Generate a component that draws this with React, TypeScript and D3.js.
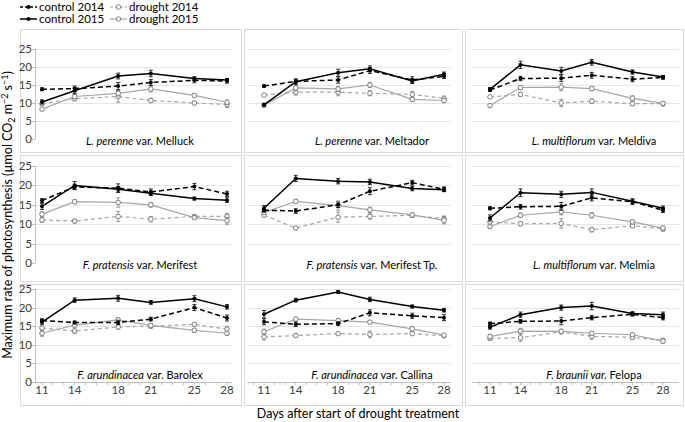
import React from "react";
import * as d3 from "d3";

const days = [11, 14, 18, 21, 25, 28];
const xTickLabels = ["11", "14", "18", "21", "25", "28"];
const yTicks = [0, 5, 10, 15, 20, 25];

const speciesItalic = [
  "L. perenne", "L. perenne", "L. multiflorum",
  "F. pratensis", "F. pratensis", "L. multiflorum",
  "F. arundinacea", "F. arundinacea", "F. braunii var.",
];
const varietyText = [
  " var. Melluck", " var. Meltador", " var. Meldiva",
  " var. Merifest", " var. Merifest Tp.", " var. Melmia",
  " var. Barolex", " var. Callina", " Felopa",
];

const control2014 = [
  [13.8, 14.0, 14.7, 15.7, 16.3, 16.1],
  [14.7, 16.0, 16.4, 19.0, 16.4, 17.4],
  [13.6, 16.8, 16.9, 17.7, 16.6, 17.1],
  [16.1, 19.6, 19.3, 18.3, 19.7, 17.8],
  [13.6, 13.4, 15.0, 18.5, 20.7, 19.0],
  [14.1, 14.5, 14.6, 16.8, 15.8, 13.6],
  [16.5, 16.0, 16.0, 16.9, 20.0, 17.2],
  [16.2, 15.5, 15.7, 18.6, 17.8, 17.3],
  [15.7, 16.3, 16.4, 17.3, 18.2, 17.3],
];
const control2014Err = [
  [0.4, 0.7, 1.0, 0.8, 0.7, 0.6],
  [0.3, 0.5, 0.9, 0.8, 0.9, 0.6],
  [0.4, 0.6, 0.9, 0.8, 0.7, 0.5],
  [0.5, 0.7, 1.1, 0.8, 0.8, 0.7],
  [0.5, 0.6, 0.7, 0.9, 0.6, 0.6],
  [0.4, 0.6, 1.0, 0.8, 0.7, 0.6],
  [0.5, 0.4, 0.6, 0.5, 0.8, 0.8],
  [0.8, 0.6, 0.5, 0.8, 0.7, 0.8],
  [0.4, 0.5, 1.0, 0.6, 0.5, 0.6],
];
const control2015 = [
  [10.3, 13.4, 17.5, 18.2, 16.8, 16.4],
  [9.5, 15.9, 18.4, 19.5, 16.1, 18.0],
  [13.8, 20.6, 18.9, 21.3, 18.6, 17.2],
  [14.6, 20.0, 19.0, 18.0, 16.6, 16.2],
  [14.1, 21.8, 21.1, 20.9, 19.2, 18.9],
  [11.6, 18.1, 17.7, 18.2, 15.9, 14.1],
  [16.1, 22.0, 22.5, 21.4, 22.4, 20.2],
  [18.2, 22.0, 24.2, 22.2, 20.3, 19.3],
  [14.7, 18.1, 20.0, 20.4, 18.4, 18.1],
];
const control2015Err = [
  [0.6, 0.8, 0.8, 0.9, 0.5, 0.4],
  [0.4, 0.8, 1.0, 0.8, 0.6, 0.6],
  [0.5, 1.0, 1.0, 0.8, 0.6, 0.4],
  [0.8, 1.0, 0.7, 0.6, 0.4, 0.6],
  [0.7, 0.8, 0.7, 0.7, 0.6, 0.5],
  [0.8, 1.0, 0.8, 0.9, 0.6, 0.6],
  [0.6, 0.6, 0.8, 0.5, 0.8, 0.6],
  [1.0, 0.5, 0.4, 0.6, 0.4, 0.5],
  [0.5, 0.7, 0.7, 1.0, 0.5, 0.7],
];
const drought2014 = [
  [9.8, 11.2, 11.8, 10.7, 10.0, 9.6],
  [12.2, 13.0, 13.0, 12.7, 12.4, 11.3],
  [11.7, 12.4, 10.0, 10.5, 9.8, 9.8],
  [11.1, 10.8, 12.0, 11.3, 12.0, 12.0],
  [12.3, 9.0, 11.8, 12.0, 12.3, 11.4],
  [10.6, 10.1, 10.2, 8.6, 9.6, 8.8],
  [14.5, 13.7, 14.8, 15.0, 15.5, 14.2],
  [12.1, 12.5, 13.0, 12.8, 13.0, 12.4],
  [11.7, 11.9, 13.5, 12.3, 12.0, 11.2],
];
const drought2014Err = [
  [0.5, 0.6, 1.6, 0.6, 0.5, 0.9],
  [0.3, 0.8, 1.0, 0.7, 0.8, 0.6],
  [0.3, 0.6, 1.0, 0.6, 0.5, 0.6],
  [0.6, 0.5, 1.3, 0.7, 0.4, 0.8],
  [0.4, 0.4, 1.3, 0.7, 0.5, 0.7],
  [0.6, 0.5, 1.2, 0.6, 0.5, 0.6],
  [0.6, 0.6, 0.6, 0.5, 0.4, 0.7],
  [0.8, 0.5, 0.3, 0.9, 0.5, 0.4],
  [0.5, 1.0, 0.5, 0.8, 0.5, 0.5],
];
const drought2015 = [
  [8.3, 11.8, 12.7, 13.9, 12.1, 10.2],
  [9.4, 14.2, 13.9, 15.0, 11.0, 10.7],
  [9.3, 14.3, 14.4, 14.0, 11.3, 9.9],
  [12.6, 15.8, 15.6, 15.0, 11.7, 10.9],
  [13.0, 15.9, 14.8, 13.7, 12.4, 11.0],
  [9.4, 12.3, 13.2, 12.3, 10.6, 9.0],
  [13.1, 15.3, 16.7, 15.2, 13.9, 13.1],
  [13.5, 16.9, 16.5, 16.1, 14.3, 12.6],
  [12.2, 13.7, 13.6, 13.1, 12.7, 11.0],
];
const drought2015Err = [
  [0.4, 0.6, 0.8, 0.8, 0.5, 0.6],
  [0.5, 0.8, 0.7, 0.7, 0.6, 0.6],
  [0.3, 0.5, 1.0, 0.6, 0.7, 0.5],
  [0.6, 0.5, 1.2, 0.6, 0.5, 0.9],
  [0.5, 0.5, 1.2, 0.7, 0.5, 0.9],
  [0.5, 0.6, 0.8, 0.7, 0.5, 0.5],
  [0.8, 0.6, 0.6, 0.4, 0.5, 0.6],
  [0.7, 0.5, 0.6, 0.4, 0.6, 0.4],
  [0.6, 0.7, 0.6, 0.5, 0.4, 0.6],
];

const legendLabels = ["control 2014", "drought 2014", "control 2015", "drought 2015"];

// ---------- layout ----------
const W = 685;
const H = 422;
const FONT = "Lato, 'Open Sans', sans-serif";
const cols = [
  { left: 20, right: 241, x0: 42, x1: 227, g0: 35, g1: 232, labelX: 140 },
  { left: 244, right: 462, x0: 264, x1: 444, g0: 247, g1: 451, labelX: 372 },
  { left: 465, right: 683, x0: 490, x1: 663, g0: 472, g1: 679, labelX: 594 },
];
const rows = [
  { top: 29, bottom: 152, y0: 139, y25: 49, labelDy: 6 },
  { top: 155, bottom: 281, y0: 263, y25: 166, labelDy: 6 },
  { top: 284, bottom: 405, y0: 382, y25: 289, labelDy: -3 },
];

const BLACK = "#000000";
const GRAY_LINE = "#a6a6a6";
const GRAY_MARK = "#7f7f7f";

type SeriesStyle = {
  values: number[][];
  errs: number[][];
  color: string;
  markColor: string;
  dash?: string;
  width: number;
  open: boolean;
};

const seriesStyles: SeriesStyle[] = [
  { values: drought2014, errs: drought2014Err, color: GRAY_LINE, markColor: GRAY_MARK, dash: "4,3", width: 1.2, open: true },
  { values: drought2015, errs: drought2015Err, color: GRAY_LINE, markColor: GRAY_MARK, width: 1.2, open: true },
  { values: control2014, errs: control2014Err, color: BLACK, markColor: BLACK, dash: "5,3", width: 1.5, open: false },
  { values: control2015, errs: control2015Err, color: BLACK, markColor: BLACK, width: 1.5, open: false },
];

function Marker({ x, y, s }: { x: number; y: number; s: SeriesStyle }) {
  if (s.open) {
    return <circle cx={x} cy={y} r={2.3} fill="#ffffff" stroke={s.markColor} strokeWidth={1} />;
  }
  return <circle cx={x} cy={y} r={2} fill={s.markColor} stroke="none" />;
}

function Panel({ idx }: { idx: number }) {
  const c = cols[idx % 3];
  const r = rows[Math.floor(idx / 3)];
  const isBottom = Math.floor(idx / 3) === 2;
  const isLeft = idx % 3 === 0;
  const x = d3.scaleLinear().domain([11, 28]).range([c.x0, c.x1]);
  const y = d3.scaleLinear().domain([0, 25]).range([r.y0, r.y25]);
  const minorDays = d3.range(10, 29).filter((d) => x(d) >= c.g0 - 0.5 && x(d) <= c.g1 + 0.5);

  return (
    <g>
      <rect x={c.left + 0.5} y={r.top + 0.5} width={c.right - c.left} height={r.bottom - r.top}
        fill="#ffffff" stroke="#d9d9d9" strokeWidth={1} />
      {yTicks.filter((t) => t > 0).map((t) => (
        <line key={t} x1={c.g0} x2={c.g1} y1={Math.round(y(t)) + 0.5} y2={Math.round(y(t)) + 0.5}
          stroke="#e6e6e6" strokeWidth={1} />
      ))}
      {isLeft && (
        <g>
          <line x1={c.g0 + 0.5} x2={c.g0 + 0.5} y1={y(0)} y2={y(25)} stroke="#bfbfbf" strokeWidth={1} />
          {yTicks.map((t) => (
            <g key={t}>
              <line x1={c.g0 - 3} x2={c.g0} y1={Math.round(y(t)) + 0.5} y2={Math.round(y(t)) + 0.5}
                stroke="#bfbfbf" strokeWidth={1} />
              <text x={c.g0 - 3} y={y(t) + 4} textAnchor="end" fontSize={11.5} fontFamily={FONT} fill="#404040">
                {t}
              </text>
            </g>
          ))}
        </g>
      )}
      {isBottom && (
        <g>
          <line x1={c.g0} x2={c.g1} y1={Math.round(y(0)) + 0.5} y2={Math.round(y(0)) + 0.5}
            stroke="#bfbfbf" strokeWidth={1} />
          {minorDays.map((d) => (
            <line key={d} x1={x(d)} x2={x(d)} y1={y(0)} y2={y(0) + 3} stroke="#bfbfbf" strokeWidth={1} />
          ))}
          {days.map((d, i) => (
            <text key={d} x={x(d)} y={y(0) + 12} textAnchor="middle" fontSize={11.5} fontFamily={FONT} fill="#404040">
              {xTickLabels[i]}
            </text>
          ))}
        </g>
      )}
      <text x={c.labelX} y={y(0) + r.labelDy} textAnchor="middle" fontSize={11} fontFamily={FONT} fill="#000">
        <tspan fontStyle="italic">{speciesItalic[idx]}</tspan>
        <tspan>{varietyText[idx]}</tspan>
      </text>
      {seriesStyles.map((s, si) => {
        const vals = s.values[idx];
        const errs = s.errs[idx];
        const line = d3.line<number>().x((_, i) => x(days[i])).y((v) => y(v));
        return (
          <g key={si}>
            <path d={line(vals) || ""} fill="none" stroke={s.color} strokeWidth={s.width}
              strokeDasharray={s.dash} />
            {vals.map((v, i) => {
              const px = x(days[i]);
              const hi = y(v + errs[i]);
              const lo = y(v - errs[i]);
              return (
                <g key={i}>
                  <line x1={px} x2={px} y1={hi} y2={lo} stroke={s.markColor} strokeWidth={0.8} />
                  <line x1={px - 2} x2={px + 2} y1={hi} y2={hi} stroke={s.markColor} strokeWidth={0.8} />
                  <line x1={px - 2} x2={px + 2} y1={lo} y2={lo} stroke={s.markColor} strokeWidth={0.8} />
                  <Marker x={px} y={y(v)} s={s} />
                </g>
              );
            })}
          </g>
        );
      })}
    </g>
  );
}

function LegendItem({ x, y, label, s }: { x: number; y: number; label: string; s: SeriesStyle }) {
  return (
    <g>
      <line x1={x} x2={x + 17} y1={y} y2={y} stroke={s.color} strokeWidth={s.width} strokeDasharray={s.dash ? "3,2" : undefined} />
      <Marker x={x + 8.5} y={y} s={s} />
      <text x={x + 19} y={y + 4} fontSize={11.5} fontFamily={FONT} fill="#000">{label}</text>
    </g>
  );
}

export default function App() {
  return (
    <svg width={W} height={H} style={{ position: "absolute", left: 0, top: 0, background: "#ffffff" }}>
      <rect x={0} y={0} width={W} height={H} fill="#ffffff" />
      <LegendItem x={20} y={7} label={legendLabels[0]} s={seriesStyles[2]} />
      <LegendItem x={110} y={7} label={legendLabels[1]} s={seriesStyles[0]} />
      <LegendItem x={20} y={19} label={legendLabels[2]} s={seriesStyles[3]} />
      <LegendItem x={110} y={19} label={legendLabels[3]} s={seriesStyles[1]} />
      {d3.range(9).map((i) => (
        <Panel key={i} idx={i} />
      ))}
      <text transform="translate(12,215) rotate(-90)" textAnchor="middle" fontSize={12.5} fontFamily={FONT} fill="#000">
        Maximum rate of photosynthesis (µmol CO
        <tspan fontSize={9} dy={3}>2</tspan>
        <tspan dy={-3}> m</tspan>
        <tspan fontSize={9} dy={-4}>−2</tspan>
        <tspan dy={4}> s</tspan>
        <tspan fontSize={9} dy={-4}>−1</tspan>
        <tspan dy={4}>)</tspan>
      </text>
      <text x={358} y={418} textAnchor="middle" fontSize={12.5} fontFamily={FONT} fill="#000">
        Days after start of drought treatment
      </text>
    </svg>
  );
}
